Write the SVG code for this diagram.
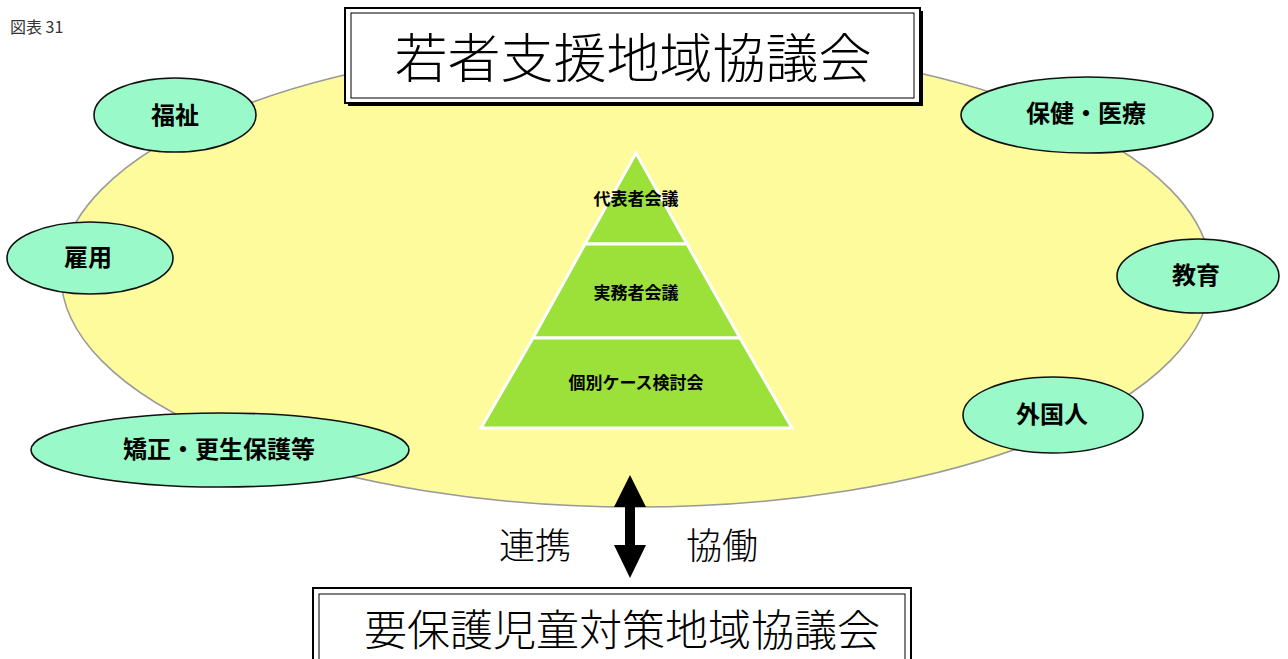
<svg xmlns="http://www.w3.org/2000/svg" width="1288" height="659" viewBox="0 0 1288 659">
<defs>
<style>
.sub{fill:#99f9c8;stroke:#111;stroke-width:1.6}
.lbl{font-family:"Noto Sans CJK JP","Liberation Sans",sans-serif;font-weight:bold;font-size:24px;fill:#000;text-anchor:middle;dominant-baseline:central}
.py{font-family:"Noto Sans CJK JP","Liberation Sans",sans-serif;font-weight:bold;font-size:17px;fill:#000;text-anchor:middle;dominant-baseline:central}
.ttl{font-family:"Noto Sans CJK JP","Liberation Sans",sans-serif;font-weight:300;fill:#000;text-anchor:middle;dominant-baseline:central}
.band{fill:#9be13a;stroke:#fff;stroke-width:3}
</style>
</defs>
<rect width="1288" height="659" fill="#fff"/>
<text x="10" y="33" font-family="Noto Sans CJK JP,Liberation Sans,sans-serif" font-size="16" fill="#333">図表 31</text>
<g id="region">
<ellipse cx="636" cy="275" rx="575" ry="232" fill="#fdfb9c" stroke="#999" stroke-width="1.5"/>
</g>
<g id="top-box">
<rect x="348" y="11" width="575" height="95" fill="#000"/>
<rect x="345" y="8" width="575" height="95" fill="#fff" stroke="#000" stroke-width="2"/>
<rect x="351" y="13" width="563" height="85" fill="none" stroke="#000" stroke-width="1"/>
<text class="ttl" x="633" y="55" font-size="53">若者支援地域協議会</text>
</g>
<g id="pyramid">
<polygon class="band" points="636,153 585,244 687,244"/>
<polygon class="band" points="585,244 687,244 740,338 533,338"/>
<polygon class="band" points="533,338 740,338 792,428 481,428"/>
<text class="py" x="636" y="197">代表者会議</text>
<text class="py" x="636" y="291">実務者会議</text>
<text class="py" x="636" y="381">個別ケース検討会</text>
</g>
<g id="n-fukushi"><ellipse class="sub" cx="175" cy="115" rx="81" ry="37"/><text class="lbl" x="175" y="113">福祉</text></g>
<g id="n-koyou"><ellipse class="sub" cx="90" cy="258" rx="83" ry="36"/><text class="lbl" x="88" y="255">雇用</text></g>
<g id="n-kyousei"><ellipse class="sub" cx="220" cy="450" rx="189" ry="37"/><text class="lbl" x="219" y="447">矯正・更生保護等</text></g>
<g id="n-hoken"><ellipse class="sub" cx="1087" cy="115" rx="126" ry="38"/><text class="lbl" x="1086" y="111">保健・医療</text></g>
<g id="n-kyouiku"><ellipse class="sub" cx="1198" cy="276" rx="81" ry="37"/><text class="lbl" x="1196" y="273">教育</text></g>
<g id="n-gaikoku"><ellipse class="sub" cx="1053" cy="415" rx="90" ry="38"/><text class="lbl" x="1052" y="412">外国人</text></g>
<g id="connectors">
<polygon points="630,475 646,507 635,507 635,545 646,545 630,578 614,545 625,545 625,507 614,507" fill="#000"/>
<text class="ttl" x="535" y="543" font-size="36">連携</text>
<text class="ttl" x="722" y="543" font-size="36">協働</text>
</g>
<g id="bottom-box">
<rect x="313" y="588" width="598" height="80" fill="#fff" stroke="#000" stroke-width="2"/>
<rect x="319" y="594" width="586" height="70" fill="none" stroke="#000" stroke-width="1"/>
<text class="ttl" x="622" y="627" font-size="43">要保護児童対策地域協議会</text>
</g>
</svg>
